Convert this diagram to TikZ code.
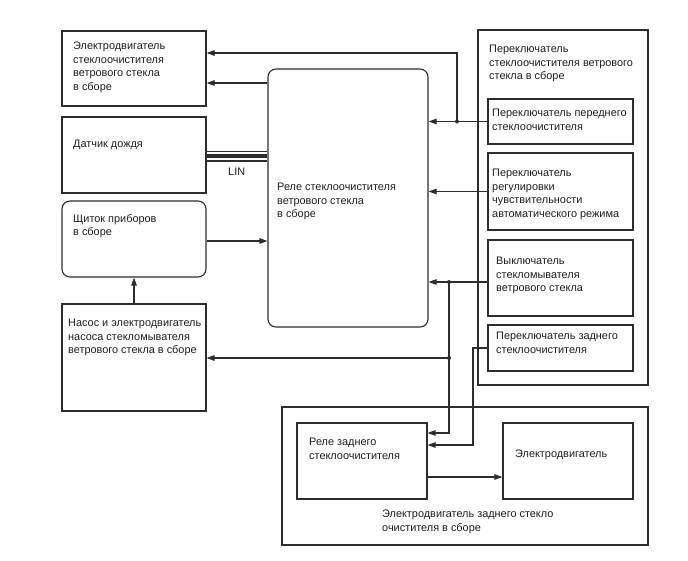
\documentclass[tikz,border=0pt]{standalone}
\usepackage{fontspec}
\setmainfont{Liberation Sans}
\usetikzlibrary{arrows.meta, positioning, fit}
\definecolor{wline}{RGB}{45,45,45}
\definecolor{wtext}{RGB}{30,30,30}

\begin{document}
\begin{tikzpicture}[
    x=1pt, y=-1pt,
    >={Triangle[length=8pt, width=5.5pt]},
    %% ── node styles ──────────────────────────────────────────────────────────
    unit/.style={
        draw=wline, line width=1.1pt, inner sep=0pt
    },
    rounit/.style={
        unit, rounded corners=8pt
    },
    caption/.style={
        anchor=north west, inner sep=0pt, align=left,
        font=\fontsize{10.9}{13.5}\selectfont, text=wtext
    },
    %% ── edge styles ──────────────────────────────────────────────────────────
    sig/.style={
        ->, draw=wline, line width=1.1pt
    },
    linbus/.style={
        preaction={draw=wline, line width=11pt},
        draw=white, line width=7.6pt,
        postaction={draw=wline, line width=3.4pt}
    },
    tap/.style={
        circle, fill=wline, inner sep=0pt, minimum size=4pt
    },
]
\useasboundingbox (0,0) rectangle (688,560);

%% ── Left column ──────────────────────────────────────────────────────────────
\node[unit, fit={(62,31)(206,106)}]    (wmotor) {};
\node[unit, fit={(62,117)(206,193)}]   (rain)   {};
\node[rounit, fit={(62,201)(206,277)}] (panel)  {};
\node[unit, fit={(62,304)(206,411)}]   (pump)   {};

\node[caption] (wmotortxt) at (73,42)
    {Электродвигатель\\стеклоочистителя\\ветрового стекла\\в сборе};
\node[caption] (raintxt) at (73,140) {Датчик дождя};
\node[caption] (paneltxt) at (73,214) {Щиток приборов\\в сборе};
\node[caption] (pumptxt) at (68,319)
    {Насос и электродвигатель\\насоса стекломывателя\\ветрового стекла в сборе};

%% ── Wiper relay (centre) ─────────────────────────────────────────────────────
\node[rounit, fit={(268,69)(428,327)}] (relay) {};
\node[caption] (relaytxt) at (277,183)
    {Реле стеклоочистителя\\ветрового стекла\\в сборе};

%% ── Wiper switch assembly (right column) ─────────────────────────────────────
\node[unit, fit={(478,30)(648,385)}]  (swasm)   {};
\node[unit, fit={(488,99)(633,144)}]  (frontsw) {};
\node[unit, fit={(488,153)(633,230)}] (senssw)  {};
\node[unit, fit={(488,240)(633,316)}] (washsw)  {};
\node[unit, fit={(488,325)(633,371)}] (rearsw)  {};

\node[caption] (swasmtxt) at (489,45)
    {Переключатель\\стеклоочистителя ветрового\\стекла в сборе};
\node[caption] (fronttxt) at (492,109)
    {Переключатель переднего\\стеклоочистителя};
\node[caption] (senstxt) at (492,169)
    {Переключатель\\регулировки\\чувствительности\\автоматического режима};
\node[caption] (washtxt) at (496,257)
    {Выключатель\\стекломывателя\\ветрового стекла};
\node[caption] (reartxt) at (496,332)
    {Переключатель заднего\\стеклоочистителя};

%% ── Rear wiper motor assembly (bottom) ───────────────────────────────────────
\node[unit, fit={(282,407)(648,545)}] (rearasm)   {};
\node[unit, fit={(297,423)(427,499)}] (rearrelay) {};
\node[unit, fit={(503,423)(633,499)}] (rmotor)    {};

\node[caption] (rearrelaytxt) at (309,438) {Реле заднего\\стеклоочистителя};
\node[caption] (rmotortxt) at (515,450) {Электродвигатель};
\node[caption] (rearasmtxt) at (382,510)
    {Электродвигатель заднего стекло\\очистителя в сборе};

%% ─────────────────────────────────────────────────────────────────────────────
%% Front wiper connections
%% ─────────────────────────────────────────────────────────────────────────────
\node[tap] (j1) at (457,121.5) {};
\draw[sig] (frontsw.west) -- (relay.east |- frontsw.west);
\draw[sig] (j1.center) |- (wmotor.east |- 0,53);
\draw[sig] (relay.west |- 0,83) -- (wmotor.east |- 0,83);

%% LIN bus to rain sensor
\draw[linbus] (rain.east |- 0,156) -- (relay.west |- 0,156);
\node[caption] (lintxt) at (228,168) {LIN};

\draw[sig] (senssw.west) -- (relay.east |- senssw.west);
\draw[sig] (panel.east |- 0,241) -- (relay.west |- 0,241);
\draw[sig] (pump.north) -- (panel.south);

%% ─────────────────────────────────────────────────────────────────────────────
%% Washer and rear wiper connections
%% ─────────────────────────────────────────────────────────────────────────────
\node[tap] (j2) at (449,282) {};
\node[tap] (j3) at (449,358) {};
\draw[sig] (washsw.west |- 0,282) -- (relay.east |- 0,282);
\draw[sig] (j2.center) |- (rearrelay.east |- 0,433);
\draw[sig] (j3.center) -- (pump.east |- j3);

\coordinate (k1) at (473,348);
\draw[sig] (rearsw.west) -- (k1) |- (rearrelay.east |- 0,445);
\draw[sig] (rearrelay.east |- 0,477) -- (rmotor.west |- 0,477);

\end{tikzpicture}
\end{document}
